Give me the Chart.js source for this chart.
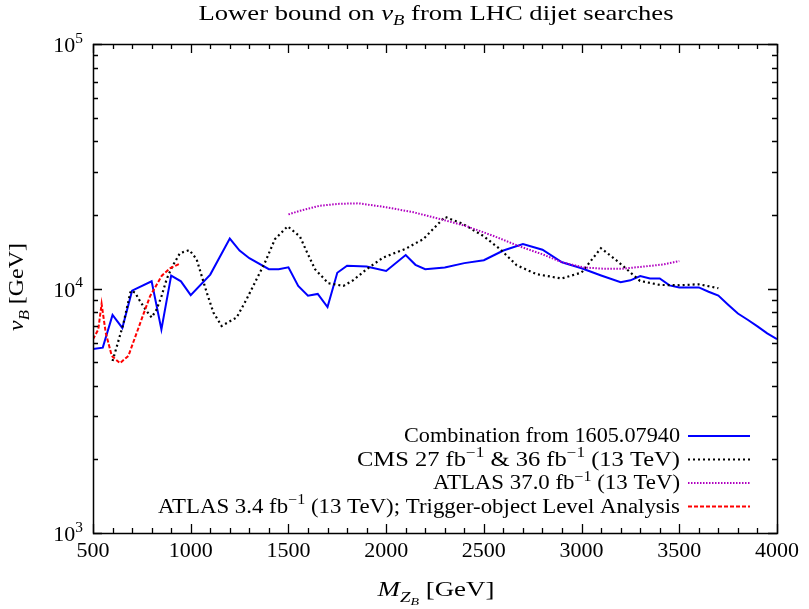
<!DOCTYPE html>
<html><head><meta charset="utf-8">
<script src="https://cdn.jsdelivr.net/npm/chart.js@4/dist/chart.umd.min.js"></script>
<style>html,body{margin:0;padding:0;background:#fff;}canvas{display:block;}</style>
</head><body>
<canvas id="c" width="809" height="609"></canvas>
<script>
// ---- data ----
const seriesNames = [
  'Combination from 1605.07940',
  'CMS 27 fb^{−1} & 36 fb^{−1} (13 TeV)',
  'ATLAS 37.0 fb^{−1} (13 TeV)',
  'ATLAS 3.4 fb^{−1} (13 TeV); Trigger-object Level Analysis'
];
const massComb = [500,550,600,650,700,800,850,900,950,1000,1100,1200,1250,1300,1400,1450,1500,1550,1600,1650,1700,1750,1800,1900,2000,2100,2150,2200,2300,2400,2500,2600,2700,2800,2900,3000,3100,3200,3250,3300,3350,3400,3450,3500,3600,3650,3700,3750,3800,3850,3900,3950,4000];
const vComb    = [5650,5730,7800,6900,9800,10700,6800,11300,10700,9400,11400,16000,14300,13300,12000,12000,12200,10250,9350,9500,8400,11600,12400,12300,11800,13700,12500,12000,12200,12700,13050,14300,15200,14400,12800,12100,11300,10600,10800,11250,11000,11000,10300,10100,10100,9700,9350,8580,7900,7450,7000,6550,6200];

const massCMS = [600,655,693,715,740,774,800,826,851,877,903,945,993,1030,1056,1082,1116,1158,1235,1286,1337,1380,1431,1496,1559,1593,1636,1704,1781,1832,1900,1985,2096,2190,2301,2395,2497,2583,2668,2770,2898,3000,3099,3171,3231,3299,3401,3504,3598,3700];
const vCMS    = [5050,7150,9780,9630,8890,8090,7610,8220,9330,10920,12190,13950,14360,13180,11260,9630,7980,7030,7610,9040,10920,12770,15920,17960,16300,14190,11990,10510,10250,10820,11990,13390,14490,15920,19630,18330,16410,14490,12450,11440,10990,11620,14620,13180,11990,10740,10340,10310,10410,10030];

const massATLAS37 = [1500,1560,1660,1760,1860,2000,2140,2280,2410,2550,2680,2800,2900,3010,3110,3210,3320,3420,3500];
const vATLAS37    = [20100,20800,21800,22200,22300,21500,20500,19200,18000,16400,14900,13800,12800,12200,12050,12050,12300,12550,12950];

const massTLA = [500,527,544,553,565,596,638,681,724,758,792,851,894,942];
const vTLA    = [6200,6800,8650,7700,6600,5300,4950,5300,6600,7850,9300,11250,12100,12600];

const xTickValues = [500,1000,1500,2000,2500,3000,3500,4000];
const yDecades = [1000,10000,100000];

// ---- helpers ----
const FONT = '"Liberation Serif", "Times New Roman", serif';
function pts(xs, ys){ return xs.map((x,i)=>({x:x, y:ys[i]})); }
function parseRich(str){
  const out=[]; const re=/\^\{([^}]*)\}|_\{([^}]*)\}/g; let last=0, m;
  while((m=re.exec(str))){ if(m.index>last) out.push({t:str.slice(last,m.index)});
    if(m[1]!==undefined) out.push({t:m[1],sup:true}); else out.push({t:m[2],sub:true});
    last=re.lastIndex; }
  if(last<str.length) out.push({t:str.slice(last)});
  return out;
}
function segFont(s,size){ const sz = s.sub2? size*0.52 : (s.sub||s.sup)? size*0.7 : size; return (s.it?'italic ':'')+sz.toFixed(1)+'px '+FONT; }
function segShift(s,size){ if(s.sub2) return size*0.42; if(s.sub) return size*0.25; if(s.sup) return -size*0.42; return 0; }
function richW(ctx,segs,size){ let w=0; for(const s of segs){ ctx.font=segFont(s,size); w+=ctx.measureText(s.t).width; } return w; }
function drawRich(ctx,segs,x,y,size,align,target){
  const w=richW(ctx,segs,size); const sx= target? target/w : 1; const tw=w*sx;
  const x0 = align==='center'? x-tw/2 : align==='right'? x-tw : x;
  ctx.save(); ctx.translate(x0,y); ctx.scale(sx,1);
  ctx.textAlign='left'; ctx.textBaseline='alphabetic'; ctx.fillStyle='#000';
  let cx=0;
  for(const s of segs){ ctx.font=segFont(s,size); ctx.fillText(s.t,cx,segShift(s,size)); cx+=ctx.measureText(s.t).width; }
  ctx.restore();
}

const decor = {
  id:'decor',
  afterDraw(chart){
    const ctx=chart.ctx, a=chart.chartArea, xs=chart.scales.x, ys=chart.scales.y;
    ctx.save();
    ctx.strokeStyle='#000'; ctx.lineWidth=1.3;
    // ticks
    ctx.beginPath();
    for(let v=500; v<=4000; v+=100){
      const px=Math.round(xs.getPixelForValue(v))+0.5; const L = (v%500===0)?9:5;
      ctx.moveTo(px,a.bottom); ctx.lineTo(px,a.bottom-L);
      ctx.moveTo(px,a.top); ctx.lineTo(px,a.top+L);
    }
    for(const d of yDecades){
      for(let k=1;k<=9;k++){
        const v=k*d; if(v>100000) break;
        const py=Math.round(ys.getPixelForValue(v))+0.5; const L=(k===1)?9:5;
        ctx.moveTo(a.left,py); ctx.lineTo(a.left+L,py);
        ctx.moveTo(a.right,py); ctx.lineTo(a.right-L,py);
      }
    }
    ctx.stroke();
    // frame
    ctx.lineWidth=1.5;
    ctx.strokeRect(Math.round(a.left)+0.5, Math.round(a.top)+0.5, Math.round(a.right-a.left), Math.round(a.bottom-a.top));
    // y tick labels 10^n
    for(const d of yDecades){
      const py=ys.getPixelForValue(d);
      drawRich(ctx,[{t:'10'},{t:String(Math.round(Math.log10(d))),sup:true}],83,py+8,22,'right');
    }
    // title
    drawRich(ctx,[{t:'Lower bound on '},{t:'v',it:true},{t:'B',it:true,sub:true},{t:' from LHC dijet searches'}],436,20,21,'center',475);
    // x label
    drawRich(ctx,[{t:'M',it:true},{t:'Z',it:true,sub:true},{t:'B',it:true,sub2:true},{t:' [GeV]'}],436,596,22,'center',117);
    // y label
    ctx.save(); ctx.translate(23,287); ctx.rotate(-Math.PI/2);
    drawRich(ctx,[{t:'v',it:true},{t:'B',it:true,sub:true},{t:' [GeV]'}],0,0,22,'center',88);
    ctx.restore();
    // legend
    const rowsY=[436,459.5,483,506.5];
    const widths=[276,323,247,522];
    chart.data.datasets.forEach((ds,i)=>{
      const y=rowsY[i];
      drawRich(ctx,parseRich(ds.label),680,y+6,20,'right',widths[i]);
      ctx.save(); ctx.strokeStyle=ds.borderColor; ctx.lineWidth=ds.borderWidth; ctx.setLineDash(ds.borderDash||[]);
      ctx.beginPath(); ctx.moveTo(688,y); ctx.lineTo(750,y); ctx.stroke(); ctx.restore();
    });
    ctx.restore();
  }
};

new Chart(document.getElementById('c'), {
  type:'line',
  data:{ datasets:[
    {label:seriesNames[0], data:pts(massComb,vComb), borderColor:'#0000ff', borderWidth:2, borderDash:[], order:4},
    {label:seriesNames[1], data:pts(massCMS,vCMS), borderColor:'#000000', borderWidth:2.2, borderDash:[2,3], order:3},
    {label:seriesNames[2], data:pts(massATLAS37,vATLAS37), borderColor:'#b000c0', borderWidth:2, borderDash:[1.5,1.5], order:2},
    {label:seriesNames[3], data:pts(massTLA,vTLA), borderColor:'#ff0000', borderWidth:2, borderDash:[4,2], order:1}
  ]},
  options:{
    responsive:false, animation:false, devicePixelRatio:1,
    layout:{padding:{top:44,right:32,left:0,bottom:0}},
    elements:{point:{radius:0,hoverRadius:0}, line:{tension:0, fill:false}},
    plugins:{legend:{display:false}, title:{display:false}, tooltip:{enabled:false}},
    events:[],
    scales:{
      x:{type:'linear', min:500, max:4000,
         afterBuildTicks:(s)=>{ s.ticks = xTickValues.map(v=>({value:v})); },
         ticks:{font:{family:FONT,size:22}, color:'#000', padding:5, maxRotation:0, autoSkip:false,
                callback:(v)=>String(v)},
         grid:{display:false, drawTicks:false}, border:{display:false},
         afterFit:(s)=>{ s.height=76; }},
      y:{type:'logarithmic', min:1000, max:100000,
         afterBuildTicks:(s)=>{ s.ticks = yDecades.map(v=>({value:v})); },
         ticks:{display:false},
         grid:{display:false, drawTicks:false}, border:{display:false},
         afterFit:(s)=>{ s.width=93; }}
    }
  },
  plugins:[decor]
});
</script>
</body></html>
